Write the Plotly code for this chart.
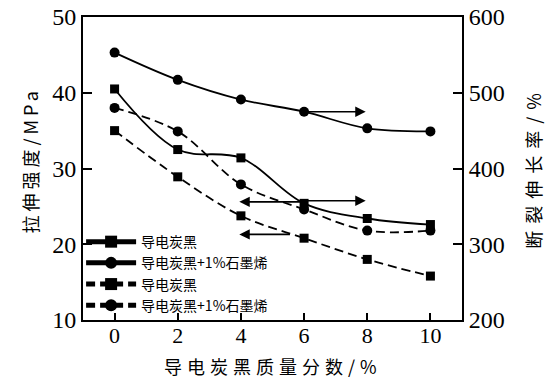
import plotly.graph_objects as go

x_vals = [0, 2, 4, 6, 8, 10]
# elongation at break (%), right axis
elong_cb = [505, 425, 414, 354, 334, 326]
elong_cb_g = [553, 517, 491, 475, 453, 449]
# tensile strength (MPa), left axis
tens_cb = [35.0, 28.9, 23.75, 20.8, 18.0, 15.8]
tens_cb_g = [38.0, 34.9, 27.9, 24.6, 21.8, 21.8]

name_cb = "导电炭黑"
name_cbg = "导电炭黑+1%石墨烯"
x_title = "导电炭黑质量分数/%"
y_title = "拉伸强度/MPa"
y2_title = "断裂伸长率/%"

serif = "Liberation Serif"
cjk = "Noto Sans CJK SC"

fig = go.Figure()
lw = 1.8
fig.add_trace(go.Scatter(x=x_vals, y=elong_cb, yaxis="y2", name=name_cb, mode="lines+markers",
                         line=dict(color="black", width=lw, shape="spline", smoothing=1.0),
                         marker=dict(symbol="square", size=9, color="black")))
fig.add_trace(go.Scatter(x=x_vals, y=elong_cb_g, yaxis="y2", name=name_cbg, mode="lines+markers",
                         line=dict(color="black", width=lw, shape="spline", smoothing=1.0),
                         marker=dict(symbol="circle", size=10, color="black")))
fig.add_trace(go.Scatter(x=x_vals, y=tens_cb, yaxis="y", name=name_cb, mode="lines+markers",
                         line=dict(color="black", width=lw, dash="9px,5px", shape="spline", smoothing=1.0),
                         marker=dict(symbol="square", size=9, color="black")))
fig.add_trace(go.Scatter(x=x_vals, y=tens_cb_g, yaxis="y", name=name_cbg, mode="lines+markers",
                         line=dict(color="black", width=lw, dash="9px,5px", shape="spline", smoothing=1.0),
                         marker=dict(symbol="circle", size=10, color="black")))

arrows = [
    (6.0, 7.95, 37.5),
    (6.0, 7.95, 25.75),
    (6.0, 3.95, 25.6),
    (5.6, 3.95, 21.3),
]
annotations = []
for xt, xh, yy in arrows:
    annotations.append(dict(x=xh, y=yy, ax=xt, ay=yy, xref="x", yref="y", axref="x", ayref="y",
                            showarrow=True, arrowhead=2, arrowsize=1.3, arrowwidth=1.6,
                            arrowcolor="black", text=""))

annotations += [
    dict(text='<span style="letter-spacing:4px">' + y_title + '</span>', xref="paper", yref="paper",
         x=-0.14, y=0.526, textangle=-90, showarrow=False, xanchor="center", yanchor="middle",
         font=dict(family=cjk, size=18, color="black")),
    dict(text='<span style="letter-spacing:7px">' + y2_title + '</span>', xref="paper", yref="paper",
         x=1.185, y=0.503, textangle=-90, showarrow=False, xanchor="center", yanchor="middle",
         font=dict(family=cjk, size=18, color="black")),
    dict(text='<span style="letter-spacing:5px">' + x_title + '</span>', xref="paper", yref="paper",
         x=0.501, y=-0.152, showarrow=False, xanchor="center", yanchor="middle",
         font=dict(family=cjk, size=18, color="black")),
]

ytickfont = dict(family=serif, size=24, color="black")
xtickfont = dict(family=serif, size=22, color="black")
fig.update_layout(
    width=549, height=378,
    margin=dict(l=83, r=87, t=17, b=58),
    paper_bgcolor="white", plot_bgcolor="white",
    showlegend=True,
    legend=dict(x=-0.005, y=0.31, xanchor="left", yanchor="top", bgcolor="rgba(0,0,0,0)",
                font=dict(family=cjk, size=14, color="black"),
                itemwidth=50, tracegroupgap=0, itemsizing="constant"),
    xaxis=dict(range=[-1.0, 11.0], tickvals=[0, 2, 4, 6, 8, 10], ticks="inside", ticklen=7,
               tickwidth=1.8, tickcolor="black", showline=True, linecolor="black", linewidth=2,
               mirror=True, showgrid=False, zeroline=False, automargin=False,
               ticklabelstandoff=-5, tickfont=xtickfont),
    yaxis=dict(range=[10, 50], tickvals=[10, 20, 30, 40, 50], ticks="inside", ticklen=9,
               tickwidth=1.8, tickcolor="black", showline=True, linecolor="black", linewidth=2,
               showgrid=False, zeroline=False, automargin=False,
               tickfont=ytickfont),
    yaxis2=dict(range=[200, 600], tickvals=[200, 300, 400, 500, 600], ticks="inside", ticklen=9,
                tickwidth=1.8, tickcolor="black", showline=True, linecolor="black", linewidth=2,
                overlaying="y", side="right", showgrid=False, zeroline=False, automargin=False,
                tickfont=ytickfont),
    annotations=annotations,
)

fig.write_html("out.html", config={"displayModeBar": False},
               post_script="document.body.style.margin='0';")
